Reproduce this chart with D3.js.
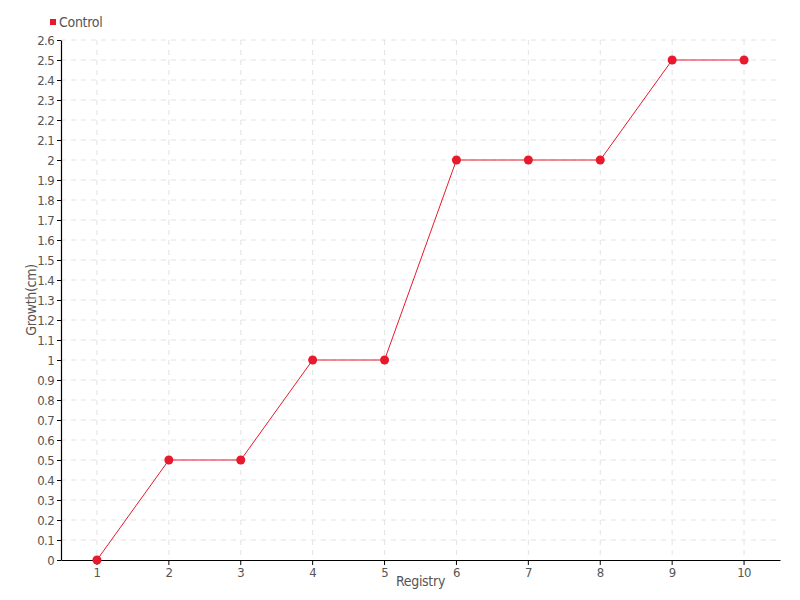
<!DOCTYPE html>
<html><head><meta charset="utf-8">
<script src="https://cdn.jsdelivr.net/npm/d3@7"></script>
<style>
body{margin:0;background:#fff;}
text{font-family:"DejaVu Sans Condensed","Liberation Sans Narrow",sans-serif;fill:#555;}
</style></head>
<body><svg id="c" width="800" height="600"></svg>
<script>
const categories = ["1","2","3","4","5","6","7","8","9","10"];
const values = [0, 0.5, 0.5, 1, 1, 2, 2, 2, 2.5, 2.5];
const yTicks = d3.range(0, 27).map(i => +(i/10).toFixed(1));
const seriesName = "Control";
const color = "#e8192c";

const svg = d3.select("#c");
const m = {l:61, r:20, t:40, b:40};
const W = 800, H = 600;
const x = d3.scaleBand().domain(categories).range([m.l, W - m.r]);
const y = d3.scaleLinear().domain([0, 2.6]).range([H - m.b, m.t]);
const cx = d => x(d) + x.bandwidth()/2;

// grid
svg.append("g").selectAll("line").data(yTicks.slice(1)).join("line")
  .attr("x1", m.l).attr("x2", W - m.r).attr("y1", d => y(d)).attr("y2", d => y(d))
  .attr("stroke", "#e3e3e3").attr("stroke-dasharray", "5,5");
svg.append("g").selectAll("line").data(categories).join("line")
  .attr("x1", d => cx(d)).attr("x2", d => cx(d)).attr("y1", m.t).attr("y2", H - m.b)
  .attr("stroke", "#e3e3e3").attr("stroke-dasharray", "5,5");

// axes
const xa = svg.append("g").attr("transform", `translate(0,${H - m.b})`)
  .call(d3.axisBottom(x).tickSize(5).tickSizeOuter(0));
const ya = svg.append("g").attr("transform", `translate(${m.l},0)`)
  .call(d3.axisLeft(y).tickValues(yTicks).tickFormat(d => String(d)).tickSize(4).tickSizeOuter(0));
[xa, ya].forEach(a => {
  a.selectAll("path,line").attr("stroke", "#000");
  a.selectAll("text").style("font-size", "13px").style("letter-spacing", "-0.6px").attr("fill", "#555");
});
xa.select(".domain").attr("stroke-width", 1.2);
ya.select(".domain").attr("stroke-width", 1.2);

// titles
svg.append("text").attr("x", (m.l + W - m.r)/2).attr("y", 586).attr("text-anchor", "middle")
  .style("font-size", "14px").style("letter-spacing", "-0.3px").text("Registry");
svg.append("text").attr("transform", `translate(36,${(m.t + H - m.b)/2}) rotate(-90)`)
  .attr("text-anchor", "middle").style("font-size", "14px").style("letter-spacing", "-0.3px").text("Growth(cm)");

// line
const line = d3.line().x((d, i) => cx(categories[i])).y(d => y(d));
svg.append("path").datum(values).attr("d", line).attr("fill", "none")
  .attr("stroke", color).attr("stroke-width", 1);
svg.append("g").selectAll("circle").data(values).join("circle")
  .attr("cx", (d, i) => cx(categories[i])).attr("cy", d => y(d)).attr("r", 4.5)
  .attr("fill", color);

// legend
svg.append("rect").attr("x", 50).attr("y", 19).attr("width", 6).attr("height", 6).attr("fill", color);
svg.append("text").attr("x", 59).attr("y", 27).style("font-size", "14px").style("letter-spacing", "-0.3px").text(seriesName);
</script></body></html>
